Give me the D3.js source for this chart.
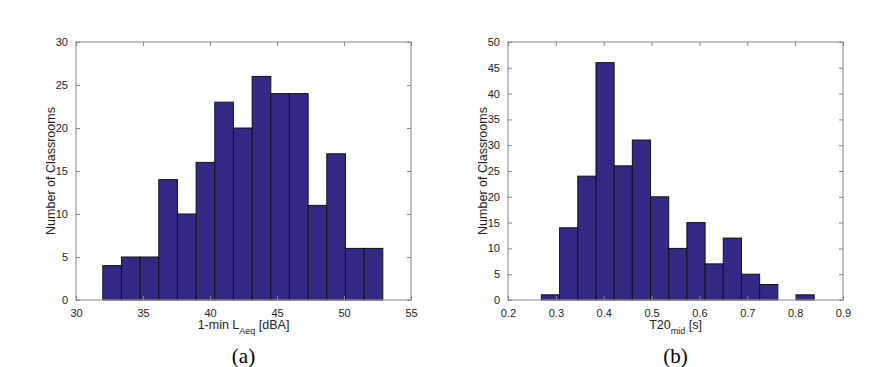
<!DOCTYPE html>
<html>
<head>
<meta charset="utf-8">
<script src="https://cdn.jsdelivr.net/npm/d3@7"></script>
<style>
  body { margin: 0; background: #fff; }
  svg { display: block; }
  .tick text { font-family: "Liberation Sans", Arial, sans-serif; font-size: 11px; fill: #222; }
</style>
</head>
<body>
<div id="chart"></div>
<script>
// Istogramma (a): livello 1-min LAeq
var laeqStart = 32.0;
var laeqWidth = 1.393;
var laeqCounts = [4, 5, 5, 14, 10, 16, 23, 20, 26, 24, 24, 11, 17, 6, 6];
var laeqTicks = [30, 35, 40, 45, 50, 55];

// Istogramma (b): T20 mid
var t20Start = 0.2698;
var t20Width = 0.038;
var t20Counts = [1, 14, 24, 46, 26, 31, 20, 10, 15, 7, 12, 5, 3, 0, 1];
var t20Ticks = [0.2, 0.3, 0.4, 0.5, 0.6, 0.7, 0.8, 0.9];

var svg = d3.select("#chart")
  .append("svg")
  .attr("width", 879)
  .attr("height", 367);

function disegnaIsto(opt) {
  var w = 335, h = 258;
  var g = svg.append("g")
    .attr("transform", "translate(" + opt.left + ",42)");

  var x = d3.scaleLinear().domain(opt.xDomain).range([0, w]);
  var y = d3.scaleLinear().domain(opt.yDomain).range([h, 0]);

  var bins = opt.counts.map(function(c, i) {
    return { x0: opt.start + i * opt.width, x1: opt.start + (i + 1) * opt.width, c: c };
  });

  g.selectAll("rect.bar")
    .data(bins)
    .enter()
    .append("rect")
    .attr("class", "bar")
    .attr("x", function(d) { return x(d.x0); })
    .attr("y", function(d) { return y(d.c); })
    .attr("width", function(d) { return x(d.x1) - x(d.x0); })
    .attr("height", function(d) { return h - y(d.c); })
    .attr("fill", "#332a85")
    .attr("stroke", "#111")
    .attr("stroke-width", 1);

  // riquadro
  g.append("rect")
    .attr("x", 0).attr("y", 0)
    .attr("width", w).attr("height", h)
    .attr("fill", "none")
    .attr("stroke", "#999")
    .attr("stroke-width", 1.2);

  // assi con tick interni (stile MATLAB)
  g.append("g").attr("transform", "translate(0," + h + ")")
    .call(d3.axisBottom(x).tickValues(opt.xTicks).tickSize(-4).tickPadding(9).tickFormat(opt.fmt));
  g.append("g")
    .call(d3.axisTop(x).tickValues(opt.xTicks).tickSize(-4).tickFormat(""));
  g.append("g")
    .call(d3.axisLeft(y).ticks(opt.yTicks).tickSize(-4).tickPadding(8));
  g.append("g").attr("transform", "translate(" + w + ",0)")
    .call(d3.axisRight(y).ticks(opt.yTicks).tickSize(-4).tickFormat(""));

  g.selectAll(".domain").remove();
  g.selectAll(".tick line").attr("stroke", "#888");

  // titolo asse x con pedice
  var tx = g.append("text")
    .attr("x", w / 2)
    .attr("y", h + 29)
    .attr("text-anchor", "middle")
    .style("font-family", "Liberation Sans, Arial, sans-serif")
    .style("font-size", "12.5px")
    .attr("fill", "#222");
  tx.append("tspan").text(opt.xLabel[0]);
  tx.append("tspan").attr("dy", 5).style("font-size", "9px").text(opt.xLabel[1]);
  tx.append("tspan").attr("dy", -5).text(opt.xLabel[2]);

  // titolo asse y
  g.append("text")
    .attr("transform", "rotate(-90)")
    .attr("x", -h / 2)
    .attr("y", -21)
    .attr("text-anchor", "middle")
    .style("font-family", "Liberation Sans, Arial, sans-serif")
    .style("font-size", "12.5px")
    .attr("fill", "#222")
    .text("Number of Classrooms");

  // etichetta (a)/(b)
  g.append("text")
    .attr("x", w / 2)
    .attr("y", h + 63)
    .attr("text-anchor", "middle")
    .style("font-family", "Liberation Serif, Times New Roman, serif")
    .style("font-size", "21px")
    .attr("fill", "#000")
    .text(opt.tag);
}

disegnaIsto({
  left: 76, start: laeqStart, width: laeqWidth, counts: laeqCounts,
  xDomain: [30, 55], yDomain: [0, 30], xTicks: laeqTicks, yTicks: 6,
  fmt: d3.format("d"), xLabel: ["1-min L", "Aeq", " [dBA]"], tag: "(a)"
});

disegnaIsto({
  left: 508, start: t20Start, width: t20Width, counts: t20Counts,
  xDomain: [0.2, 0.9], yDomain: [0, 50], xTicks: t20Ticks, yTicks: 10,
  fmt: d3.format(".1f"), xLabel: ["T20", "mid", " [s]"], tag: "(b)"
});
</script>
</body>
</html>
